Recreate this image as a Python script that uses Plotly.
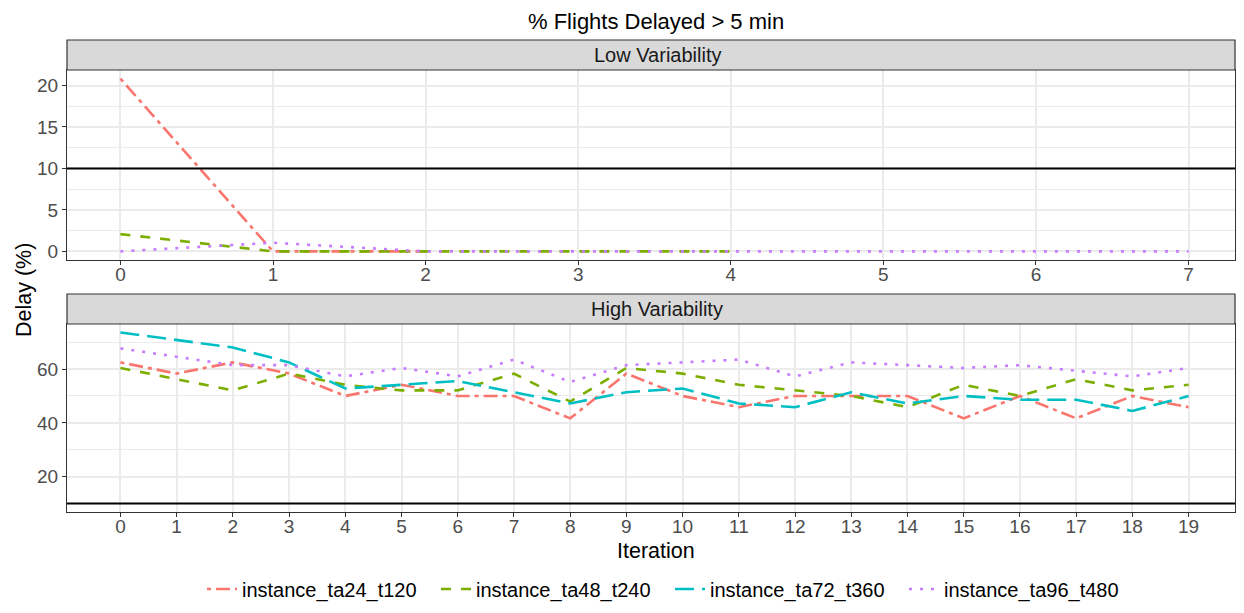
import plotly.graph_objects as go

# ---------------- data ----------------
series_names = ["instance_ta24_t120", "instance_ta48_t240", "instance_ta72_t360", "instance_ta96_t480"]
colors = ["#F8766D", "#7CAE00", "#00BFC4", "#C77CFF"]
dashes = ["4px,5px,14px,5px", "10px,10px", "19px,8px", "3px,8px"]

low_ta24 = [20.83, 0, 0]
low_ta48 = [2.08, 0, 0, 0, 0]
low_ta72 = [0]
low_ta96 = [0, 1.04, 0, 0, 0, 0, 0, 0]

high_ta24 = [62.5, 58.33, 62.5, 58.33, 50, 54.17, 50, 50, 41.67, 58.33, 50, 45.83, 50, 50, 50, 41.67, 50, 41.67, 50, 45.83]
high_ta48 = [60.42, 56.25, 52.08, 58.33, 54.17, 52.08, 52.08, 58.33, 47.92, 60.42, 58.33, 54.17, 52.08, 50, 45.83, 54.17, 50, 56.25, 52.08, 54.17]
high_ta72 = [73.61, 70.83, 68.06, 62.5, 52.78, 54.17, 55.56, 51.39, 47.22, 51.39, 52.78, 47.22, 45.83, 51.39, 47.22, 50, 48.61, 48.61, 44.44, 50]
high_ta96 = [67.71, 64.58, 61.46, 61.46, 57.29, 60.42, 57.29, 63.54, 55.21, 61.46, 62.5, 63.54, 57.29, 62.5, 61.46, 60.42, 61.46, 59.38, 57.29, 60.42]

threshold = 10
low_xticks = list(range(0, 8))
high_xticks = list(range(0, 20))
low_yticks = [0, 5, 10, 15, 20]
high_yticks = [20, 40, 60]

title = "% Flights Delayed > 5 min"
strip_low = "Low Variability"
strip_high = "High Variability"
x_title = "Iteration"
y_title = "Delay (%)"

# ---------------- figure ----------------
FONT = "Liberation Sans, Arial, Helvetica, sans-serif"
OFF = 8  # default body margin of the html page (kept, so the page never overflows)
W, H = 1244 - 2 * OFF, 613 - 2 * OFF
# panel box in page pixel coords
P_L, P_R, P_T, P_B = 67, 1235, 70, 512
ml, mt = P_L - OFF, P_T - OFF
mr = W - (P_R - OFF)
mb = H - (P_B - OFF)
ph = P_B - P_T
pw = P_R - P_L

def py(y):  # page y -> paper fraction
    return (P_B - y) / ph

def px(x):
    return (x - P_L) / pw

top_dom = [py(260), 1]
bot_dom = [0, py(324)]

# x ranges chosen so tick positions match the reference (0 at x=121)
low_px_per_unit = (1242 - 67) / 7.7
high_px_per_unit = (1242 - 67) / 20.9
low_xrange = [-0.35, -0.35 + pw / low_px_per_unit]
high_xrange = [-0.95, -0.95 + pw / high_px_per_unit]

fig = go.Figure()

low_data = [low_ta24, low_ta48, low_ta72, low_ta96]
high_data = [high_ta24, high_ta48, high_ta72, high_ta96]

for i, name in enumerate(series_names):
    fig.add_trace(go.Scatter(
        x=list(range(len(low_data[i]))), y=low_data[i], mode="lines",
        name=name, legendgroup=name, showlegend=False,
        line=dict(color=colors[i], width=2.6, dash=dashes[i]),
        xaxis="x", yaxis="y"))
for i, name in enumerate(series_names):
    fig.add_trace(go.Scatter(
        x=list(range(len(high_data[i]))), y=high_data[i], mode="lines",
        name=name, legendgroup=name, showlegend=True,
        line=dict(color=colors[i], width=2.6, dash=dashes[i]),
        xaxis="x2", yaxis="y2"))

axis_common = dict(
    showline=True, mirror=True, linecolor="#333333", linewidth=1.2,
    ticks="outside", ticklen=4, tickwidth=1, tickcolor="#333333",
    zeroline=False, tickfont=dict(family=FONT, size=19, color="#4d4d4d"),
    showgrid=True, gridcolor="#ebebeb", gridwidth=1.8, automargin=False)

fig.update_layout(
    width=W, height=H,
    margin=dict(l=ml, r=mr, t=mt, b=mb, autoexpand=False),
    paper_bgcolor="white", plot_bgcolor="white",
    font=dict(family=FONT, color="black"),
    xaxis=dict(domain=[0, 1], anchor="y", range=low_xrange, tickmode="array",
               tickvals=low_xticks, ticktext=[str(v) for v in low_xticks],
               ticklabelstandoff=-7, **axis_common),
    yaxis=dict(domain=top_dom, anchor="x", range=[-1.04, 21.87], tickmode="array",
               tickvals=low_yticks,
               minor=dict(dtick=2.5, tick0=0, showgrid=True, gridcolor="#ebebeb", gridwidth=0.9, ticks=""),
               **axis_common),
    xaxis2=dict(domain=[0, 1], anchor="y2", range=high_xrange, tickmode="array",
                tickvals=high_xticks, ticktext=[str(v) for v in high_xticks],
                ticklabelstandoff=-7, **axis_common),
    yaxis2=dict(domain=bot_dom, anchor="x2", range=[6.83, 76.78], tickmode="array",
                tickvals=high_yticks,
                minor=dict(dtick=10, tick0=0, showgrid=True, gridcolor="#ebebeb", gridwidth=0.9, ticks=""),
                **axis_common),
    legend=dict(orientation="h", x=px(670), xanchor="center", y=py(589), yanchor="middle",
                font=dict(family=FONT, size=20, color="black"), itemwidth=30,
                entrywidth=189, entrywidthmode="pixels",
                bgcolor="rgba(0,0,0,0)"),
    showlegend=True,
)

shapes = []
for xr, yr in [("x", "y"), ("x2", "y2")]:
    shapes.append(dict(type="line", xref=f"{xr} domain", yref=yr, x0=0, x1=1,
                       y0=threshold, y1=threshold, line=dict(color="black", width=2), layer="above"))
strip_h = 30 / ph
for y0 in [top_dom[1], bot_dom[1]]:
    shapes.append(dict(type="rect", xref="paper", yref="paper", x0=0, x1=1,
                       y0=y0, y1=y0 + strip_h, fillcolor="#d9d9d9",
                       line=dict(color="#333333", width=1.2), layer="above"))
fig.update_layout(shapes=shapes)

ann = [
    dict(text=strip_low, xref="paper", yref="paper", x=px(657), y=top_dom[1] + strip_h / 2,
         showarrow=False, font=dict(family=FONT, size=20, color="#1a1a1a"), yanchor="middle"),
    dict(text=strip_high, xref="paper", yref="paper", x=px(657), y=bot_dom[1] + strip_h / 2,
         showarrow=False, font=dict(family=FONT, size=20, color="#1a1a1a"), yanchor="middle"),
    dict(text=title, xref="paper", yref="paper", x=px(656), y=py(22),
         showarrow=False, font=dict(family=FONT, size=22, color="black"), yanchor="middle"),
    dict(text=x_title, xref="paper", yref="paper", x=px(656), y=py(551),
         showarrow=False, font=dict(family=FONT, size=21.5, color="black"), yanchor="middle"),
    dict(text=y_title, xref="paper", yref="paper", x=px(24), xanchor="center",
         y=py(290), yanchor="middle", textangle=-90,
         showarrow=False, font=dict(family=FONT, size=21.5, color="black")),
]
fig.update_layout(annotations=ann)

fig.write_html("out.html", config={"displayModeBar": False})
